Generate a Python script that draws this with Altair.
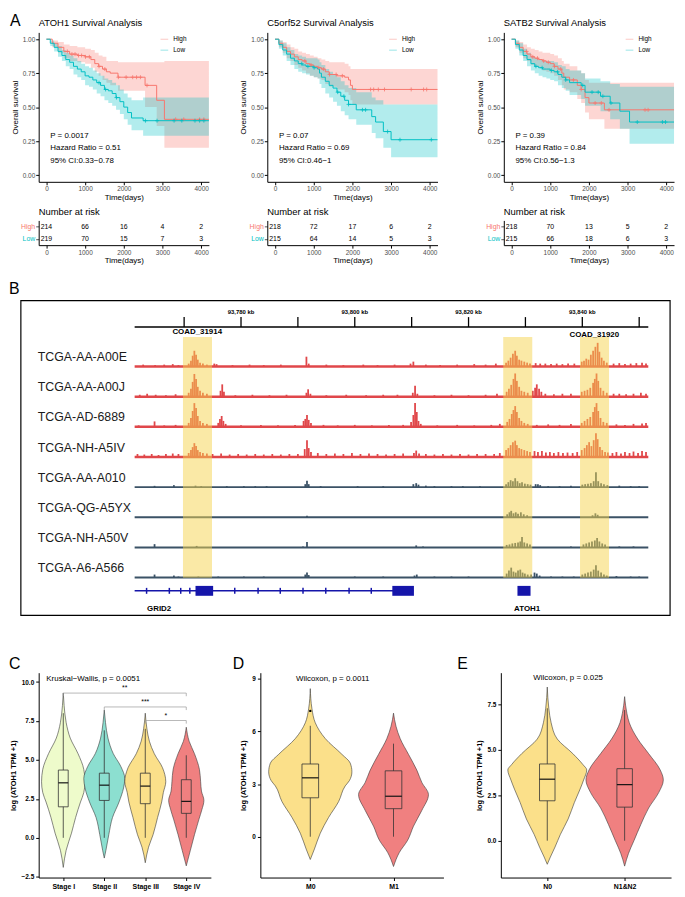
import json
import altair as alt
import pandas as pd

FONT = "Liberation Sans"
RED, TEAL = "#F8766D", "#00BFC4"

# ======================= A: survival analysis =======================
km_genes = ["ATOH1", "C5orf52", "SATB2"]
risk_times = [0, 1000, 2000, 3000, 4000]
groups = ["High", "Low"]

atoh1_high_t = [0, 150, 300, 450, 600, 800, 1000, 1150, 1250, 1350, 1450, 1550, 1650, 1850, 2550, 2850, 3050, 4200]
atoh1_high_s = [1.00, 0.97, 0.94, 0.91, 0.89, 0.88, 0.87, 0.85, 0.82, 0.80, 0.78, 0.76, 0.75, 0.72, 0.66, 0.55, 0.41, 0.41]
atoh1_high_lo = [1.00, 0.94, 0.90, 0.86, 0.84, 0.83, 0.82, 0.79, 0.76, 0.73, 0.70, 0.68, 0.66, 0.62, 0.50, 0.36, 0.20, 0.20]
atoh1_high_hi = [1.00, 0.99, 0.98, 0.96, 0.95, 0.94, 0.93, 0.92, 0.90, 0.88, 0.87, 0.84, 0.84, 0.83, 0.83, 0.83, 0.84, 0.84]
atoh1_low_t = [0, 100, 200, 300, 400, 500, 600, 700, 800, 900, 1000, 1100, 1200, 1300, 1400, 1500, 1600, 1700, 1800, 1900, 2000, 2100, 2200, 2500, 4200]
atoh1_low_s = [1.0, 0.97, 0.94, 0.91, 0.88, 0.85, 0.83, 0.80, 0.78, 0.76, 0.73, 0.72, 0.70, 0.68, 0.66, 0.63, 0.62, 0.60, 0.57, 0.54, 0.50, 0.46, 0.42, 0.40, 0.40]
atoh1_low_lo = [1.0, 0.95, 0.91, 0.87, 0.84, 0.80, 0.78, 0.74, 0.72, 0.70, 0.66, 0.65, 0.63, 0.60, 0.58, 0.55, 0.53, 0.51, 0.48, 0.45, 0.41, 0.37, 0.33, 0.29, 0.28]
atoh1_low_hi = [1.0, 0.99, 0.97, 0.95, 0.92, 0.90, 0.88, 0.86, 0.84, 0.82, 0.80, 0.79, 0.77, 0.75, 0.73, 0.71, 0.70, 0.68, 0.66, 0.63, 0.60, 0.57, 0.55, 0.57, 0.57]
atoh1_high_cens = [540, 660, 740, 830, 910, 1010, 1110, 1360, 1510, 1860, 2060, 2230, 2330, 2430, 2600, 3340, 3550, 3960, 4070]
atoh1_low_cens = [1360, 1530, 1810, 2560, 2860, 3300, 3500, 3840, 3960, 4070]

c5_high_t = [0, 100, 200, 300, 400, 500, 600, 700, 800, 900, 1000, 1100, 1200, 1300, 1400, 1600, 1800, 1900, 1950, 2000, 4200]
c5_high_s = [1.0, 0.97, 0.94, 0.91, 0.89, 0.87, 0.85, 0.84, 0.82, 0.81, 0.80, 0.79, 0.78, 0.76, 0.74, 0.73, 0.72, 0.70, 0.66, 0.63, 0.63]
c5_high_lo = [1.0, 0.94, 0.90, 0.86, 0.84, 0.81, 0.79, 0.77, 0.75, 0.73, 0.72, 0.71, 0.70, 0.67, 0.65, 0.63, 0.61, 0.59, 0.55, 0.52, 0.52]
c5_high_hi = [1.0, 0.99, 0.98, 0.96, 0.94, 0.93, 0.91, 0.90, 0.89, 0.88, 0.87, 0.86, 0.85, 0.84, 0.83, 0.83, 0.82, 0.80, 0.78, 0.78, 0.78]
c5_low_t = [0, 100, 200, 300, 400, 500, 600, 700, 800, 900, 1000, 1100, 1150, 1200, 1300, 1400, 1500, 1600, 1700, 1800, 1900, 2100, 2500, 2600, 2800, 3000, 4200]
c5_low_s = [1.0, 0.96, 0.92, 0.89, 0.86, 0.84, 0.82, 0.81, 0.80, 0.80, 0.79, 0.78, 0.75, 0.72, 0.69, 0.66, 0.64, 0.61, 0.58, 0.55, 0.52, 0.48, 0.43, 0.39, 0.32, 0.26, 0.26]
c5_low_lo = [1.0, 0.93, 0.88, 0.84, 0.81, 0.78, 0.76, 0.75, 0.74, 0.73, 0.72, 0.71, 0.67, 0.64, 0.60, 0.57, 0.54, 0.51, 0.47, 0.44, 0.41, 0.37, 0.31, 0.27, 0.20, 0.13, 0.13]
c5_low_hi = [1.0, 0.99, 0.97, 0.94, 0.92, 0.89, 0.88, 0.87, 0.86, 0.86, 0.86, 0.85, 0.83, 0.81, 0.78, 0.76, 0.74, 0.72, 0.69, 0.66, 0.64, 0.61, 0.57, 0.55, 0.52, 0.52, 0.52]
c5_high_cens = [770, 930, 1130, 1250, 1410, 1580, 1740, 2470, 2550, 2670, 2830, 3520, 3840, 3920]
c5_low_cens = [690, 850, 1010, 1620, 1780, 1900, 2260, 2340, 2910, 3230, 4040]

satb2_high_t = [0, 100, 200, 300, 400, 500, 600, 700, 800, 900, 1000, 1100, 1200, 1300, 1350, 1500, 1700, 1800, 1900, 2000, 2400, 4200]
satb2_high_s = [1.0, 0.97, 0.94, 0.91, 0.89, 0.87, 0.86, 0.85, 0.84, 0.83, 0.82, 0.80, 0.78, 0.75, 0.72, 0.70, 0.66, 0.63, 0.57, 0.53, 0.48, 0.48]
satb2_high_lo = [1.0, 0.94, 0.90, 0.86, 0.84, 0.81, 0.80, 0.79, 0.77, 0.76, 0.75, 0.73, 0.70, 0.66, 0.63, 0.61, 0.56, 0.53, 0.46, 0.41, 0.34, 0.34]
satb2_high_hi = [1.0, 0.99, 0.98, 0.96, 0.94, 0.93, 0.92, 0.91, 0.90, 0.90, 0.89, 0.88, 0.86, 0.84, 0.82, 0.80, 0.77, 0.75, 0.70, 0.68, 0.68, 0.68]
satb2_low_t = [0, 100, 200, 300, 400, 500, 600, 700, 800, 900, 1000, 1100, 1200, 1300, 1400, 1500, 1800, 1900, 2300, 2550, 2800, 3050, 4200]
satb2_low_s = [1.0, 0.96, 0.92, 0.88, 0.85, 0.82, 0.80, 0.79, 0.78, 0.78, 0.77, 0.76, 0.74, 0.72, 0.70, 0.68, 0.66, 0.61, 0.58, 0.53, 0.47, 0.39, 0.39]
satb2_low_lo = [1.0, 0.93, 0.88, 0.84, 0.80, 0.77, 0.75, 0.73, 0.72, 0.71, 0.70, 0.69, 0.66, 0.64, 0.62, 0.59, 0.56, 0.51, 0.47, 0.41, 0.34, 0.23, 0.23]
satb2_low_hi = [1.0, 0.99, 0.97, 0.93, 0.90, 0.87, 0.86, 0.85, 0.84, 0.84, 0.84, 0.83, 0.81, 0.80, 0.78, 0.77, 0.75, 0.71, 0.69, 0.67, 0.65, 0.65, 0.65]
satb2_high_cens = [390, 550, 670, 830, 950, 1110, 1270, 1600, 1800, 2160, 2320, 2520, 3450, 3530]
satb2_low_cens = [630, 790, 1030, 1190, 1400, 1840, 2080, 2240, 2360, 2570, 3250, 3900, 3980]

km_stats = {
    "ATOH1": ["P = 0.0017", "Hazard Ratio = 0.51", "95% CI:0.33\u22120.78"],
    "C5orf52": ["P = 0.07", "Hazard Ratio = 0.69", "95% CI:0.46\u22121"],
    "SATB2": ["P = 0.39", "Hazard Ratio = 0.84", "95% CI:0.56\u22121.3"],
}
stat_t = [100, 100, 100]
stat_s = [0.284, 0.196, 0.106]
risk_high = {"ATOH1": [214, 66, 16, 4, 2], "C5orf52": [218, 72, 17, 6, 2], "SATB2": [218, 70, 13, 5, 2]}
risk_low = {"ATOH1": [219, 70, 15, 7, 3], "C5orf52": [215, 64, 14, 5, 3], "SATB2": [215, 66, 18, 6, 3]}

km_curves = {
    "ATOH1": {"High": (atoh1_high_t, atoh1_high_s, atoh1_high_lo, atoh1_high_hi),
              "Low": (atoh1_low_t, atoh1_low_s, atoh1_low_lo, atoh1_low_hi)},
    "C5orf52": {"High": (c5_high_t, c5_high_s, c5_high_lo, c5_high_hi),
                "Low": (c5_low_t, c5_low_s, c5_low_lo, c5_low_hi)},
    "SATB2": {"High": (satb2_high_t, satb2_high_s, satb2_high_lo, satb2_high_hi),
              "Low": (satb2_low_t, satb2_low_s, satb2_low_lo, satb2_low_hi)},
}
km_cens = {
    "ATOH1": {"High": atoh1_high_cens, "Low": atoh1_low_cens},
    "C5orf52": {"High": c5_high_cens, "Low": c5_low_cens},
    "SATB2": {"High": satb2_high_cens, "Low": satb2_low_cens},
}


def step_at(ts, ss, x):
    v = ss[0]
    for t, s in zip(ts, ss):
        if t <= x:
            v = s
    return v


KM_W, KM_H, RISK_H = 172, 151, 25


def indep(c):
    return c.resolve_scale(color="independent").resolve_legend(color="independent")


def km_panel(gene, show_letter):
    curves = km_curves[gene]
    rows = []
    for g, (t, s, lo, hi) in curves.items():
        rows += [dict(group=g, t=a, s=b, lo=c, hi=d) for a, b, c, d in zip(t, s, lo, hi)]
    df = pd.DataFrame(rows)
    crow = [dict(group=g, t=ct, s=step_at(curves[g][0], curves[g][1], ct))
            for g, cts in km_cens[gene].items() for ct in cts]
    cdf = pd.DataFrame(crow)
    sdf = pd.DataFrame({"t": stat_t, "s": stat_s, "txt": km_stats[gene]})

    xs = alt.Scale(domain=[-200, 4200], nice=False, zero=False)
    ys = alt.Scale(domain=[-0.05, 1.05], nice=False, zero=False)
    xax = alt.Axis(values=risk_times, format="d", title="Time(days)", labelFontSize=6.5,
                   labelColor="#4D4D4D", titleFontSize=8, titleFontWeight="normal", titleColor="black",
                   tickSize=3, tickColor="black", domainColor="black", labelPadding=1, titlePadding=1,
                   grid=False)
    yax = alt.Axis(values=[0, 0.25, 0.5, 0.75, 1.0], format=".2f", title="Overall survival",
                   labelFontSize=6.5, labelColor="#4D4D4D", titleFontSize=8, titleFontWeight="normal",
                   titleColor="black", tickSize=3, tickColor="black", domainColor="black",
                   labelPadding=1, titlePadding=3, grid=False)
    cscale = alt.Scale(domain=groups, range=[RED, TEAL])
    leg = alt.Legend(title=None, orient="none", legendX=122, legendY=2, symbolType="stroke",
                     symbolSize=60, symbolStrokeWidth=1.3, labelFontSize=6.5, labelColor="black",
                     rowPadding=2, padding=0, labelOffset=4)

    def X(f):
        return alt.X(f, scale=xs, axis=xax)

    def Y(f):
        return alt.Y(f, scale=ys, axis=yax)

    col = alt.Color("group:N", scale=cscale, legend=leg)
    band = alt.Chart(df).mark_area(interpolate="step-after", opacity=0.3).encode(
        x=X("t:Q"), y=Y("lo:Q"), y2="hi:Q", color=col)
    line = alt.Chart(df).mark_line(interpolate="step-after", strokeWidth=1).encode(
        x=X("t:Q"), y=Y("s:Q"), color=col)
    cens = alt.Chart(cdf).mark_point(shape="M-1,0L1,0M0,-1L0,1", filled=False, size=16,
                                     strokeWidth=0.8, opacity=1).encode(
        x=X("t:Q"), y=Y("s:Q"), color=col)
    stat = alt.Chart(sdf).mark_text(align="left", baseline="middle", fontSize=8, color="black").encode(
        x=X("t:Q"), y=Y("s:Q"), text="txt:N")
    title = alt.Chart(pd.DataFrame({"t": [gene + " Survival Analysis"]})).mark_text(
        align="left", baseline="alphabetic", fontSize=9.5, color="black").encode(
        x=alt.value(0), y=alt.value(-6), text="t:N")
    letter = alt.Chart(pd.DataFrame({"l": ["A"]})).mark_text(
        align="left", baseline="middle", fontSize=16, color="black",
        opacity=1 if show_letter else 0).encode(
        x=alt.value(-29), y=alt.value(-11), text="l:N")
    km = alt.layer(band, line, cens, stat, title, letter).properties(width=KM_W, height=KM_H)

    rdf = pd.DataFrame([dict(group="High", t=t, n=n) for t, n in zip(risk_times, risk_high[gene])] +
                       [dict(group="Low", t=t, n=n) for t, n in zip(risk_times, risk_low[gene])])
    risk = alt.Chart(rdf).mark_text(fontSize=7, color="black").encode(
        x=alt.X("t:Q", scale=xs, axis=xax),
        y=alt.Y("group:N", sort=groups,
                axis=alt.Axis(title=None, labelFontSize=7, tickSize=3, tickColor="#555555",
                              domainColor="black", labelPadding=1,
                              labelColor={"condition": {"test": "datum.value == 'High'", "value": RED},
                                          "value": TEAL})),
        text="n:Q").properties(
        width=KM_W, height=RISK_H,
        title=alt.TitleParams("Number at risk", anchor="start", frame="group", fontSize=9.5,
                              fontWeight="normal", offset=4, color="black"))
    return indep(alt.vconcat(km, risk, spacing=5))


# ======================= B: genome tracks =======================
track_names = ["TCGA-AA-A00E", "TCGA-AA-A00J", "TCGA-AD-6889", "TCGA-NH-A5IV",
               "TCGA-AA-A010", "TCGA-QG-A5YX", "TCGA-NH-A50V", "TCGA-A6-A566"]
track_colors = ["#E0474A"] * 4 + ["#3B5266"] * 4

peaks_a00e = [(93762.8, 2), (93764.9, 1.5), (93766.5, 2), (93768.0, 2.5), (93769.0, 1.5),
              (93770.8, 3), (93771.2, 6), (93771.5, 11), (93771.8, 16), (93772.1, 12), (93772.4, 7), (93772.8, 4), (93773.3, 3), (93774.0, 2),
              (93775.3, 3), (93775.7, 2.5), (93778.5, 1.5), (93781.5, 2), (93784.0, 1.5), (93787.0, 2),
              (93791.5, 10), (93791.9, 3), (93795.0, 2), (93798.0, 1.5), (93801.5, 2), (93804.0, 1.5), (93807.0, 2),
              (93809.8, 3), (93810.3, 5), (93812.5, 2), (93815.0, 1.5), (93818.0, 2), (93821.0, 2.5), (93823.0, 2), (93824.8, 3),
              (93826.6, 4), (93827.0, 6), (93827.4, 9), (93827.8, 13), (93828.2, 16), (93828.5, 11), (93828.9, 7), (93829.3, 6), (93829.8, 5), (93830.3, 4), (93830.8, 3),
              (93831.8, 3.5), (93832.6, 3), (93833.5, 3), (93834.5, 2.5), (93835.5, 3), (93836.5, 2.5), (93837.5, 3), (93838.6, 3),
              (93839.9, 5), (93840.3, 6), (93840.7, 8), (93841.1, 7), (93841.5, 12), (93841.9, 16), (93842.3, 20), (93842.7, 24), (93843.0, 15), (93843.4, 9), (93843.8, 6), (93844.3, 4),
              (93845.5, 3), (93846.5, 3.5), (93847.5, 2.5), (93848.5, 3), (93849.5, 3.5), (93850.5, 4), (93851.2, 3)]
peaks_a00j = [(93762.2, 2), (93763.5, 3), (93765.0, 2), (93766.8, 1.5), (93768.5, 2.5),
              (93770.8, 4), (93771.2, 8), (93771.5, 15), (93771.8, 23), (93772.1, 18), (93772.4, 10), (93772.8, 6), (93773.3, 4), (93774.0, 3),
              (93776.4, 6), (93776.7, 12.5), (93777.0, 5), (93779.0, 1.5), (93782.0, 2), (93785.0, 1.5), (93788.0, 2),
              (93791.5, 4), (93791.8, 7.5), (93792.2, 3), (93795.0, 1.5), (93798.5, 2), (93802.0, 1.5), (93805.0, 2), (93807.5, 2),
              (93810.2, 4), (93810.6, 11), (93811.0, 3), (93814.0, 1.5), (93817.0, 2), (93820.0, 1.5), (93823.0, 2), (93825.0, 3),
              (93826.7, 5), (93827.1, 8), (93827.5, 12), (93827.9, 18), (93828.2, 23.5), (93828.5, 16), (93828.9, 10), (93829.3, 6), (93829.8, 5), (93830.4, 4),
              (93831.3, 6), (93831.7, 9), (93832.0, 12.5), (93832.4, 8), (93832.8, 5), (93833.5, 3), (93835.0, 2.5), (93836.5, 3), (93838.0, 3),
              (93839.9, 5), (93840.4, 6), (93840.9, 7), (93841.4, 9), (93841.9, 14), (93842.2, 18), (93842.5, 23.5), (93842.8, 16), (93843.2, 9), (93843.7, 6), (93844.3, 4),
              (93845.5, 3), (93846.5, 3), (93847.7, 2.5), (93849.0, 3), (93850.3, 4), (93851.2, 3)]
peaks_ad6889 = [(93762.0, 1.5), (93764.8, 5.5), (93766.5, 1.5), (93768.5, 2),
                (93770.8, 4), (93771.2, 9), (93771.5, 16), (93771.8, 24), (93772.1, 19), (93772.4, 11), (93772.8, 6), (93773.3, 4), (93774.0, 3),
                (93776.0, 4), (93776.3, 8), (93776.6, 11), (93776.9, 6), (93777.3, 3), (93780.0, 1.5), (93783.5, 2), (93786.5, 1.5), (93789.5, 2),
                (93791.0, 6), (93791.3, 8), (93791.6, 12), (93791.9, 7), (93792.3, 4), (93794.5, 2), (93797.0, 1.5), (93800.0, 2), (93803.0, 1.5), (93806.0, 2), (93808.5, 2),
                (93809.9, 5), (93810.3, 12), (93810.6, 24), (93810.9, 15), (93811.2, 6), (93811.6, 3), (93814.5, 1.5), (93818.0, 2), (93821.0, 1.5), (93824.0, 2), (93825.5, 3),
                (93826.8, 5), (93827.2, 8), (93827.6, 13), (93827.9, 17), (93828.2, 21), (93828.5, 15), (93828.9, 9), (93829.3, 6), (93829.8, 4), (93830.4, 3),
                (93832.0, 2), (93834.0, 2.5), (93836.0, 2), (93838.0, 3),
                (93839.9, 4), (93840.4, 6), (93840.9, 8), (93841.4, 10), (93841.9, 15), (93842.2, 20), (93842.5, 24), (93842.8, 16), (93843.2, 9), (93843.7, 5), (93844.3, 4),
                (93846.0, 2.5), (93847.5, 2), (93849.0, 3), (93850.5, 3.5), (93851.2, 4)]
peaks_a5iv = [(93761.8, 3), (93763.0, 2.5), (93764.3, 3), (93765.5, 2), (93766.8, 3), (93768.0, 3.5), (93769.0, 3),
              (93770.8, 4), (93771.2, 7), (93771.5, 10), (93771.8, 14), (93772.1, 11), (93772.4, 7), (93772.8, 5), (93773.3, 4), (93774.0, 3.5),
              (93775.0, 3), (93776.5, 3.5), (93778.0, 2.5), (93779.5, 3), (93781.0, 2.5), (93782.5, 3), (93784.0, 2.5), (93785.5, 3), (93787.0, 2.5), (93788.5, 3), (93790.0, 3),
              (93791.2, 8), (93791.6, 17), (93791.9, 9), (93792.3, 5), (93793.5, 4), (93795.0, 3), (93796.5, 3.5), (93798.0, 3), (93799.5, 4), (93801.0, 3), (93802.5, 3.5), (93804.0, 3), (93805.5, 2.5), (93807.0, 3), (93808.5, 3.5),
              (93810.4, 4), (93810.8, 6.5), (93811.3, 3.5), (93812.5, 3), (93814.0, 2.5), (93815.5, 3), (93817.0, 2.5), (93818.5, 3), (93820.0, 2.5), (93821.5, 3), (93823.0, 3), (93824.5, 3), (93825.5, 4),
              (93826.6, 7), (93827.0, 9), (93827.4, 12), (93827.8, 15), (93828.2, 16.5), (93828.5, 12), (93828.9, 9), (93829.3, 8), (93829.8, 7), (93830.3, 6), (93830.8, 5),
              (93831.6, 6), (93832.2, 5), (93832.9, 6), (93833.6, 4.5), (93834.3, 5), (93835.0, 4), (93835.8, 5), (93836.6, 4), (93837.4, 4.5), (93838.3, 4), (93839.1, 5),
              (93839.9, 7), (93840.4, 9), (93840.8, 12), (93841.2, 15), (93841.6, 11), (93842.0, 17), (93842.4, 24), (93842.7, 18), (93843.1, 10), (93843.5, 7), (93844.0, 5), (93844.5, 4.5),
              (93845.3, 4), (93846.0, 5), (93846.8, 3.5), (93847.5, 5), (93848.3, 4), (93849.0, 5.5), (93849.8, 4), (93850.5, 6), (93851.2, 5)]
peaks_a010 = [(93764.8, 1.3), (93768.2, 2), (93772.0, 1.5), (93773.0, 1), (93777.5, 1), (93780.5, 1), (93782.5, 1), (93784.5, 1),
              (93791.3, 3), (93791.6, 6.5), (93791.9, 3), (93794.0, 1), (93800.5, 1), (93805.0, 1),
              (93810.3, 3), (93810.8, 4), (93811.2, 2.5), (93812.5, 1.5), (93814.0, 1), (93817.0, 1), (93819.0, 1), (93822.0, 1),
              (93826.6, 3), (93827.0, 5), (93827.4, 7), (93827.8, 6), (93828.2, 9), (93828.6, 6), (93829.0, 4), (93829.4, 5), (93829.9, 3.5), (93830.4, 3), (93830.9, 2.5),
              (93831.8, 3), (93832.2, 3), (93832.6, 2), (93834.0, 1), (93836.0, 1), (93838.0, 1.5),
              (93840.0, 2.5), (93840.5, 3), (93841.0, 3.5), (93841.5, 4), (93842.0, 6), (93842.4, 15), (93842.8, 6), (93843.3, 4), (93843.8, 3), (93844.4, 2),
              (93846.5, 1.5), (93848.5, 1), (93850.0, 1)]
peaks_a5yx = [(93791.6, 1.5),
              (93826.8, 3), (93827.2, 5), (93827.5, 6.5), (93827.9, 4), (93828.3, 5), (93828.7, 3.5), (93829.2, 5), (93829.7, 3), (93830.3, 2),
              (93841.8, 2), (93842.3, 4), (93842.7, 2.5)]
peaks_a50v = [(93764.8, 3.3), (93772.2, 1.5), (93790.9, 1), (93791.6, 5.5), (93810.8, 2), (93812.0, 1),
              (93826.7, 2.5), (93827.2, 3), (93827.7, 4), (93828.2, 4.5), (93828.7, 5), (93829.1, 6), (93829.4, 10.5), (93829.8, 5), (93830.3, 4), (93830.8, 3),
              (93838.0, 1),
              (93840.2, 3), (93840.7, 4), (93841.2, 5), (93841.7, 6), (93842.2, 7), (93842.6, 9.5), (93843.0, 6), (93843.5, 4), (93844.0, 3),
              (93846.5, 1), (93849.0, 1)]
peaks_a566 = [(93764.8, 3), (93768.2, 2), (93769.0, 1), (93772.5, 1), (93776.0, 1), (93780.5, 1), (93784.0, 1),
              (93791.3, 3), (93791.6, 5), (93791.9, 2.5), (93800.0, 1), (93805.0, 1), (93810.5, 2), (93810.9, 3), (93814.0, 1), (93817.0, 1), (93820.0, 1),
              (93826.7, 4), (93827.1, 7), (93827.5, 10), (93827.9, 6), (93828.3, 5), (93828.7, 7), (93829.1, 8), (93829.5, 5), (93829.9, 4), (93830.4, 3), (93831.0, 3),
              (93831.6, 5), (93832.0, 4), (93832.5, 2), (93834.5, 1), (93836.5, 1), (93838.5, 1),
              (93840.0, 3), (93840.5, 4), (93841.0, 5), (93841.5, 6), (93842.0, 8), (93842.4, 12.5), (93842.8, 7), (93843.3, 5), (93843.8, 3), (93844.3, 2),
              (93846.0, 1.5), (93848.5, 1), (93850.0, 1)]
track_peaks = [peaks_a00e, peaks_a00j, peaks_ad6889, peaks_a5iv, peaks_a010, peaks_a5yx, peaks_a50v, peaks_a566]

ruler_span = [93761.3, 93851.6]
ruler_ticks = [93770, 93780, 93790, 93800, 93810, 93820, 93830, 93840, 93850]
ruler_labels = [93780, 93800, 93820, 93840]
highlight_start = [93769.8, 93826.1, 93839.6]
highlight_end = [93774.9, 93831.2, 93844.7]
peak_names = ["COAD_31914", "COAD_31920"]
peak_name_kb = [93772.3, 93842.1]
gene_names = ["GRID2", "ATOH1"]
gene_label_kb = [93765.6, 93830.3]
grid2_span = [93761.3, 93810.3]
gene_block_start = [93772.0, 93806.6, 93828.6]
gene_block_end = [93775.1, 93810.4, 93830.9]
grid2_exons = [93763.4, 93767.4, 93769.4, 93771.0, 93778.9, 93783.0, 93786.9, 93790.9, 93794.9, 93799.0, 93802.9]

B_W, B_H = 638, 318
B_FRAME_LEFT = -18
TRACK_TOP, TRACK_STEP = 251.3, 30.45
RULER_Y, TICK_LEN, RULER_LAB_Y = 291.3, 10, 306
HL_LOW, HL_HIGH = 37.9, 281.3
GENE_Y, GENE_LAB_Y = 24.7, 6


def b_panel():
    bx = alt.Scale(domain=[93744.43, 93855.43], nice=False, zero=False)
    by = alt.Scale(domain=[0, B_H], nice=False, zero=False)

    def X(f):
        return alt.X(f, scale=bx, axis=None)

    def Y(f):
        return alt.Y(f, scale=by, axis=None)

    tdf = pd.DataFrame({"name": track_names, "col": track_colors, "i": list(range(len(track_names)))})
    tdf["base"] = TRACK_TOP - TRACK_STEP * tdf["i"]
    tdf["lab_y"] = tdf["base"] + 9.5
    tdf["x0"], tdf["x1"] = ruler_span[0], ruler_span[1]
    tdf["sw"] = [2.5] * 4 + [2.0] * 4
    srows = []
    for i, pk in enumerate(track_peaks):
        for kb, h in pk:
            b = TRACK_TOP - TRACK_STEP * i
            srows.append(dict(i=i, kb=kb, base=b, top=b + h, col=track_colors[i]))
    sdf = pd.DataFrame(srows)

    frame = alt.Chart(pd.DataFrame({"f": [0]})).mark_rect(
        fill="white", fillOpacity=0, stroke="black", strokeWidth=1.2).encode(
        x=alt.value(B_FRAME_LEFT), x2=alt.value(B_W), y=alt.value(0), y2=alt.value(B_H))
    baselines = alt.Chart(tdf).mark_rule().encode(
        x=X("x0:Q"), x2="x1:Q", y=Y("base:Q"), color=alt.Color("col:N", scale=None),
        strokeWidth=alt.StrokeWidth("sw:Q", scale=None))
    spikes = alt.Chart(sdf).mark_rule(strokeWidth=1.8).encode(
        x=X("kb:Q"), y=Y("base:Q"), y2="top:Q", color=alt.Color("col:N", scale=None))
    hdf = pd.DataFrame({"s": highlight_start, "e": highlight_end, "lo": [HL_LOW] * 3, "hi": [HL_HIGH] * 3})
    highlight = alt.Chart(hdf).mark_rect(color="#F5D44E", opacity=0.5).encode(
        x=X("s:Q"), x2="e:Q", y=Y("lo:Q"), y2="hi:Q")
    rdf = pd.DataFrame({"x0": [ruler_span[0]], "x1": [ruler_span[1]], "y": [RULER_Y]})
    ruler = alt.Chart(rdf).mark_rule(color="black", strokeWidth=1.3).encode(x=X("x0:Q"), x2="x1:Q", y=Y("y:Q"))
    tk = pd.DataFrame({"kb": ruler_ticks, "y0": RULER_Y, "y1": RULER_Y + TICK_LEN})
    ticks = alt.Chart(tk).mark_rule(color="black", strokeWidth=1.3).encode(x=X("kb:Q"), y=Y("y0:Q"), y2="y1:Q")
    lb = pd.DataFrame({"kb": ruler_labels, "y": RULER_LAB_Y,
                       "t": [f"{v:,} kb" for v in ruler_labels]})
    tlabels = alt.Chart(lb).mark_text(fontSize=6, fontWeight="bold", color="black").encode(
        x=X("kb:Q"), y=Y("y:Q"), text="t:N")
    names = alt.Chart(tdf).mark_text(align="left", baseline="middle", fontSize=12.5, color="#1A1A1A").encode(
        x=alt.value(-1), y=Y("lab_y:Q"), text="name:N")
    pdf = pd.DataFrame({"kb": peak_name_kb, "y": [286.3, 282.8], "t": peak_names})
    pnames = alt.Chart(pdf).mark_text(fontSize=8, fontWeight="bold", color="black").encode(
        x=X("kb:Q"), y=Y("y:Q"), text="t:N")
    gl = pd.DataFrame({"x0": [grid2_span[0]], "x1": [grid2_span[1]], "y": [GENE_Y]})
    gline = alt.Chart(gl).mark_rule(color="#1515AA", strokeWidth=1.5).encode(x=X("x0:Q"), x2="x1:Q", y=Y("y:Q"))
    gb = pd.DataFrame({"s": gene_block_start, "e": gene_block_end, "lo": GENE_Y - 5, "hi": GENE_Y + 5})
    gblocks = alt.Chart(gb).mark_rect(color="#1515AA").encode(x=X("s:Q"), x2="e:Q", y=Y("lo:Q"), y2="hi:Q")
    ge = pd.DataFrame({"kb": grid2_exons, "lo": GENE_Y - 3, "hi": GENE_Y + 3})
    gexons = alt.Chart(ge).mark_rule(color="#1515AA", strokeWidth=1.5).encode(x=X("kb:Q"), y=Y("lo:Q"), y2="hi:Q")
    gn = pd.DataFrame({"kb": gene_label_kb, "y": GENE_LAB_Y, "t": gene_names})
    gnames = alt.Chart(gn).mark_text(fontSize=8, fontWeight="bold", color="black").encode(
        x=X("kb:Q"), y=Y("y:Q"), text="t:N")
    letter = alt.Chart(pd.DataFrame({"l": ["B"]})).mark_text(
        align="left", baseline="middle", fontSize=16, color="black").encode(
        x=alt.value(-30), y=alt.value(-12), text="l:N")
    return alt.layer(frame, baselines, spikes, highlight, ruler, ticks, tlabels, names, pnames,
                     gline, gblocks, gexons, gnames, letter).properties(width=B_W, height=B_H)


# ======================= C, D, E: violins =======================
stage_cats = ["Stage I", "Stage II", "Stage III", "Stage IV"]
stage_cols = ["#EEFBCB", "#8CDFD0", "#FBE08A", "#F08080"]
stage_shapes = [
    [(9.3, 0), (8.5, 0.02), (7.4, 0.07), (6.4, 0.17), (5.4, 0.36), (4.4, 0.50), (3.6, 0.53), (2.9, 0.50), (2.3, 0.42), (1.3, 0.30), (0.3, 0.20), (-0.8, 0.07), (-1.9, 0)],
    [(8.2, 0), (7.4, 0.03), (6.4, 0.09), (5.4, 0.22), (4.6, 0.40), (3.8, 0.50), (3.2, 0.47), (2.3, 0.36), (1.3, 0.20), (0.2, 0.11), (-0.8, 0.04), (-1.3, 0)],
    [(8.0, 0), (7.0, 0.04), (6.2, 0.10), (5.4, 0.22), (4.5, 0.42), (3.6, 0.50), (2.9, 0.44), (2.3, 0.40), (1.3, 0.30), (0.2, 0.19), (-0.6, 0.08), (-1.6, 0)],
    [(7.1, 0), (6.2, 0.07), (5.4, 0.20), (4.4, 0.32), (3.6, 0.35), (3.0, 0.37), (2.4, 0.43), (1.8, 0.38), (1.2, 0.31), (0.2, 0.20), (-0.8, 0.10), (-1.8, 0)],
]
stage_q1 = [1.99, 2.40, 2.19, 1.57]
stage_med = [3.53, 3.38, 3.32, 2.34]
stage_q3 = [4.35, 4.15, 4.15, 3.73]
stage_wlo = [0.0, 0.0, 0.0, 0.0]
stage_whi = [8.0, 6.9, 7.0, 5.3]
stage_brackets = [(1, 4, 9.29, "**"), (2, 4, 8.40, "***"), (3, 4, 7.53, "*")]

m_cats = ["M0", "M1"]
m_cols = ["#FBE08A", "#F08080"]
m_shapes = [
    [(8.45, 0), (7.3, 0.02), (6.5, 0.06), (5.6, 0.18), (4.7, 0.38), (4.2, 0.48), (3.7, 0.50), (3.2, 0.47), (2.9, 0.42), (2.0, 0.34), (1.1, 0.22), (0.2, 0.12), (-0.7, 0.05), (-1.3, 0)],
    [(7.05, 0), (6.3, 0.03), (5.6, 0.08), (4.7, 0.18), (3.8, 0.28), (3.1, 0.34), (2.4, 0.42), (1.5, 0.34), (0.6, 0.24), (-0.2, 0.17), (-0.9, 0.07), (-1.7, 0)],
]
m_q1 = [2.22, 1.60]
m_med = [3.36, 2.31]
m_q3 = [4.15, 3.76]
m_wlo = [0.0, 0.0]
m_whi = [6.33, 5.31]
m_outliers = [(1, 7.18)]

n_cats = ["N0", "N1&N2"]
n_cols = ["#FBE08A", "#F08080"]
n_shapes = [
    [(8.47, 0), (7.3, 0.02), (6.5, 0.05), (5.6, 0.13), (4.8, 0.33), (4.2, 0.46), (3.9, 0.51), (3.35, 0.47), (2.8, 0.42), (2.1, 0.35), (1.2, 0.27), (0.35, 0.17), (-0.35, 0.10), (-0.9, 0.04), (-1.3, 0)],
    [(7.94, 0), (7.0, 0.03), (6.5, 0.06), (5.6, 0.17), (4.8, 0.31), (3.9, 0.46), (3.35, 0.50), (2.65, 0.44), (1.8, 0.31), (0.9, 0.21), (0.0, 0.12), (-0.7, 0.05), (-1.4, 0)],
]
n_q1 = [2.20, 1.85]
n_med = [3.39, 3.09]
n_q3 = [4.23, 3.97]
n_wlo = [0.0, 0.0]
n_whi = [7.3, 7.2]


def violin_panel(cats, cols, shapes, q1, med, q3, wlo, whi, ydom, yvals, yfmt, w, h,
                 title, title_xy, letter, letter_x, bw, brackets=(), outliers=()):
    n = len(cats)
    xs = alt.Scale(domain=[0.4, n + 0.6], nice=False, zero=False)
    ys = alt.Scale(domain=ydom, nice=False, zero=False)
    lab = "[" + ",".join(json.dumps(c) for c in cats) + "][datum.value - 1]"
    xax = alt.Axis(values=list(range(1, n + 1)), labelExpr=lab, title=None, labelFontSize=7,
                   labelFontWeight="bold", labelColor="black", tickSize=3, tickColor="black",
                   domainColor="black", labelPadding=2, grid=False)
    yax = alt.Axis(values=yvals, format=yfmt, title="log (ATOH1 TPM +1)", labelFontSize=6.5,
                   labelFontWeight="bold", labelColor="black", titleFontSize=7.5, titleFontWeight="bold",
                   titleColor="black", tickSize=3, tickColor="black", domainColor="black",
                   labelPadding=2, titlePadding=4, grid=False)

    def X(f):
        return alt.X(f, scale=xs, axis=xax)

    def Y(f):
        return alt.Y(f, scale=ys, axis=yax)

    rows = []
    for i, (shape, col) in enumerate(zip(shapes, cols), start=1):
        for yv, wv in shape:
            rows.append(dict(i=i, y=yv, xl=i - wv, xr=i + wv, col=col))
    vdf = pd.DataFrame(rows)
    bdf = pd.DataFrame({"i": list(range(1, n + 1)), "q1": q1, "med": med, "q3": q3,
                        "lo": wlo, "hi": whi})
    bdf["bl"] = bdf["i"] - bw
    bdf["br"] = bdf["i"] + bw

    violin = alt.Chart(vdf).mark_area(orient="horizontal", interpolate="monotone",
                                      stroke="#3A3A3A", strokeWidth=0.6).encode(
        y=Y("y:Q"), x=X("xl:Q"), x2="xr:Q", fill=alt.Fill("col:N", scale=None), detail="i:N")
    wl = alt.Chart(bdf).mark_rule(color="#333333", strokeWidth=0.8).encode(x=X("i:Q"), y=Y("lo:Q"), y2="q1:Q")
    wh = alt.Chart(bdf).mark_rule(color="#333333", strokeWidth=0.8).encode(x=X("i:Q"), y=Y("q3:Q"), y2="hi:Q")
    box = alt.Chart(bdf).mark_rect(fillOpacity=0, stroke="#333333", strokeWidth=0.8).encode(
        x=X("bl:Q"), x2="br:Q", y=Y("q1:Q"), y2="q3:Q")
    mline = alt.Chart(bdf).mark_rule(color="#111111", strokeWidth=1.2).encode(
        x=X("bl:Q"), x2="br:Q", y=Y("med:Q"))
    tdf = pd.DataFrame({"x": [title_xy[0]], "y": [title_xy[1]], "t": [title]})
    ttl = alt.Chart(tdf).mark_text(fontSize=8, color="black").encode(x=X("x:Q"), y=Y("y:Q"), text="t:N")
    let = alt.Chart(pd.DataFrame({"l": [letter]})).mark_text(
        align="left", baseline="middle", fontSize=16, color="black").encode(
        x=alt.value(letter_x), y=alt.value(-9), text="l:N")
    layers = [violin, wl, wh, box, mline, ttl, let]
    if brackets:
        hb = pd.DataFrame({"a": [b[0] for b in brackets], "b": [b[1] for b in brackets],
                           "y": [b[2] for b in brackets], "lab": [b[3] for b in brackets]})
        hb["y0"] = hb["y"] - 0.2
        hb["mid"] = (hb["a"] + hb["b"]) / 2
        hb["ly"] = hb["y"] + 0.32
        layers += [
            alt.Chart(hb).mark_rule(color="#9A9A9A", strokeWidth=0.7).encode(x=X("a:Q"), x2="b:Q", y=Y("y:Q")),
            alt.Chart(hb).mark_rule(color="#9A9A9A", strokeWidth=0.7).encode(x=X("a:Q"), y=Y("y0:Q"), y2="y:Q"),
            alt.Chart(hb).mark_rule(color="#9A9A9A", strokeWidth=0.7).encode(x=X("b:Q"), y=Y("y0:Q"), y2="y:Q"),
            alt.Chart(hb).mark_text(fontSize=7, color="black").encode(x=X("mid:Q"), y=Y("ly:Q"), text="lab:N"),
        ]
    if outliers:
        odf = pd.DataFrame({"i": [o[0] for o in outliers], "y": [o[1] for o in outliers]})
        layers.append(alt.Chart(odf).mark_point(filled=True, size=6, color="black", opacity=1).encode(
            x=X("i:Q"), y=Y("y:Q")))
    return alt.layer(*layers).properties(width=w, height=h)


# ======================= assemble =======================
p1 = km_panel("ATOH1", True)
p2 = km_panel("C5orf52", False)
p3 = km_panel("SATB2", False)
rowA = indep(alt.hconcat(indep(alt.hconcat(p1, p2, spacing=26)), p3, spacing=34))

rowB = b_panel()

VH = 207
pC = violin_panel(stage_cats, stage_cols, stage_shapes, stage_q1, stage_med, stage_q3, stage_wlo, stage_whi,
                  [-2.55, 10.6], [-2.5, 0, 2.5, 5, 7.5, 10], ".1f", 174, VH,
                  "Kruskal\u2212Wallis, p = 0.0051", (1.73, 10.18), "C", -30, 0.12,
                  brackets=stage_brackets)
pD = violin_panel(m_cats, m_cols, m_shapes, m_q1, m_med, m_q3, m_wlo, m_whi,
                  [-2.33, 9.36], [0, 3, 6, 9], "d", 185, VH,
                  "Wilcoxon, p = 0.0011", (1.27, 8.98), "D", -28, 0.10, outliers=m_outliers)
pE = violin_panel(n_cats, n_cols, n_shapes, n_q1, n_med, n_q3, n_wlo, n_whi,
                  [-2.03, 9.26], [0, 2.5, 5, 7.5], ".1f", 172, VH,
                  "Wilcoxon, p = 0.025", (1.27, 8.94), "E", -44, 0.10)
rowC = alt.hconcat(alt.hconcat(pC, pD, spacing=20), pE, spacing=12)

top = indep(alt.vconcat(indep(alt.vconcat(rowA, rowB, spacing=15)), rowC, spacing=38)).properties(padding=0)

chart = top.configure(font=FONT).configure_view(stroke="transparent")
chart.save("out.html", embed_options={"renderer": "svg", "actions": False})
